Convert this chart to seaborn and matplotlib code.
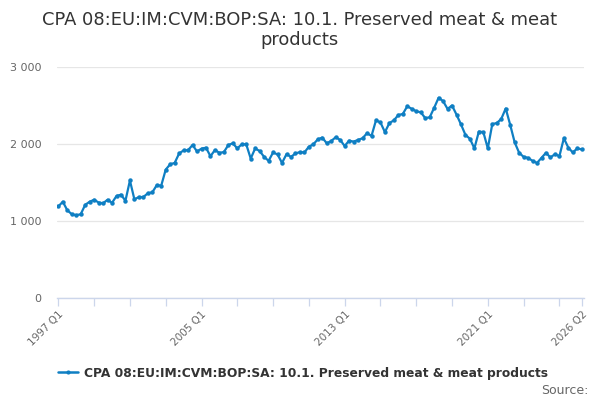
import matplotlib
matplotlib.use("Agg")
import matplotlib.pyplot as plt
import matplotlib.ticker as mticker
from matplotlib.lines import Line2D
import seaborn as sns
import pandas as pd

title = "CPA 08:EU:IM:CVM:BOP:SA: 10.1. Preserved meat & meat\nproducts"
series_name = "CPA 08:EU:IM:CVM:BOP:SA: 10.1. Preserved meat & meat products"

years = list(range(1997, 2027))
quarters = [f"{y} Q{q}" for y in years for q in (1, 2, 3, 4)][:118]

values = [
    1190, 1250, 1140, 1088, 1075, 1088, 1210, 1250, 1276, 1240,
    1230, 1276, 1236, 1325, 1342, 1263, 1526, 1281, 1311, 1311,
    1360, 1372, 1465, 1460, 1667, 1737, 1754, 1877, 1917, 1920,
    1987, 1903, 1940, 1952, 1842, 1921, 1886, 1895, 1987, 2009,
    1943, 1996, 1996, 1811, 1943, 1908, 1833, 1781, 1890, 1864,
    1754, 1868, 1833, 1877, 1895, 1890, 1965, 1996, 2061, 2083,
    2009, 2039, 2088, 2053, 1974, 2044, 2031, 2053, 2075, 2140,
    2105, 2307, 2280, 2154, 2272, 2307, 2377, 2390, 2491, 2456,
    2425, 2412, 2338, 2346, 2469, 2601, 2557, 2456, 2500, 2382,
    2255, 2118, 2068, 1943, 2162, 2154, 1943, 2259, 2272, 2325,
    2461, 2250, 2022, 1886, 1833, 1820, 1781, 1754, 1820, 1886,
    1825, 1868, 1842, 2075, 1952, 1890, 1943, 1930,
]

label_quarters = ["1997 Q1", "2005 Q1", "2013 Q1", "2021 Q1", "2026 Q2"]
y_ticks = [0, 1000, 2000, 3000]

line_color = "#0f7fc3"
text_gray = "#666666"

df = pd.DataFrame({"idx": range(len(values)), "quarter": quarters, "value": values})

sns.set_theme(style="white")
plt.rcParams["font.family"] = ["DejaVu Sans"]

fig = plt.figure(figsize=(6, 4), dpi=100)
ax = fig.add_axes([57 / 600, 1 - 298 / 400, 527 / 600, (298 - 67) / 400])

sns.lineplot(data=df, x="idx", y="value", ax=ax, color=line_color, linewidth=1.6,
             marker="o", markersize=3.2, markeredgewidth=0, legend=False)

ax.set_xlim(-0.3, len(values) - 1 + 0.5)
ax.set_ylim(0, 3000)

# y axis
ax.set_yticks(y_ticks)
ax.yaxis.set_major_formatter(mticker.FuncFormatter(lambda v, p: f"{int(v):,}".replace(",", " ")))
ax.tick_params(axis="y", length=0, pad=11, labelsize=8, labelcolor=text_gray)
ax.yaxis.grid(True, color="#e6e6e6", linewidth=0.9)
ax.xaxis.grid(False)

# x axis
minor_pos = list(range(0, len(values), 8)) + [len(values) - 1]
major_pos = [quarters.index(q) for q in label_quarters]
ax.set_xticks(minor_pos, minor=True)
ax.set_xticks(major_pos)
ax.set_xticklabels(label_quarters, rotation=45, ha="right", rotation_mode="anchor")
ax.tick_params(axis="x", which="both", length=6, width=0.9, color="#ccd6eb",
               direction="out", labelsize=7.5, labelcolor=text_gray, pad=2, bottom=True)
ax.tick_params(axis="x", which="minor", labelbottom=False)

for s in ["top", "right", "left"]:
    ax.spines[s].set_visible(False)
ax.spines["bottom"].set_color("#ccd6eb")
ax.spines["bottom"].set_linewidth(1.0)
ax.set_xlabel("")
ax.set_ylabel("")

fig.text(0.5, 1 - 11 / 400, title, ha="center", va="top", fontsize=12.9,
         color="#333333", linespacing=1.12)

handle = Line2D([0], [0], color=line_color, linewidth=1.8, marker="o", markersize=3, markeredgewidth=0)
fig.legend([handle], [series_name], loc="center", bbox_to_anchor=(0.505, 1 - 373 / 400),
           frameon=False, handlelength=1.6, handletextpad=0.5,
           prop={"weight": "bold", "size": 8.8})
leg = fig.legends[-1]
for t in leg.get_texts():
    t.set_color("#333333")

fig.text(589 / 600, 1 - 390 / 400, "Source:", ha="right", va="center", fontsize=9, color=text_gray)

fig.savefig("out.png", dpi=100)
